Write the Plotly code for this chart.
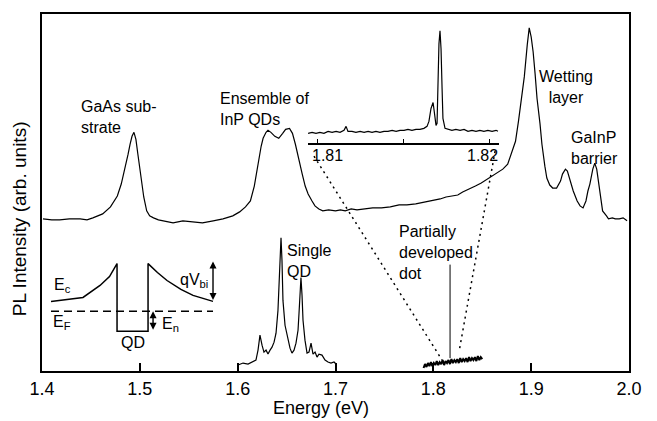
import plotly.graph_objects as go

# ---------------- data ----------------
# Upper (ensemble) PL spectrum: energy (eV), intensity (arb. units)
ens_energy = [1.401, 1.410, 1.418, 1.428, 1.439, 1.446, 1.452, 1.462, 1.470, 1.477, 1.481, 1.485,
              1.488, 1.490, 1.492, 1.494, 1.496, 1.498, 1.500, 1.502, 1.504, 1.507, 1.510, 1.514,
              1.519, 1.524, 1.529, 1.534, 1.544, 1.554, 1.564, 1.575, 1.585, 1.595, 1.602, 1.608,
              1.613, 1.617, 1.621, 1.624, 1.626, 1.629, 1.631, 1.634, 1.638, 1.642, 1.646, 1.649,
              1.653, 1.656, 1.659, 1.662, 1.666, 1.669, 1.672, 1.676, 1.679, 1.683, 1.687, 1.693,
              1.700, 1.705, 1.710, 1.716, 1.722, 1.730, 1.738, 1.747, 1.756, 1.765, 1.773, 1.782,
              1.792, 1.800, 1.807, 1.813, 1.819, 1.825, 1.830, 1.837, 1.843, 1.849, 1.855, 1.860,
              1.865, 1.871, 1.876, 1.880, 1.884, 1.887, 1.890, 1.893, 1.896, 1.898, 1.900, 1.902,
              1.904, 1.906, 1.909, 1.911, 1.914, 1.916, 1.919, 1.922, 1.926, 1.930, 1.932, 1.935,
              1.937, 1.940, 1.943, 1.947, 1.950, 1.953, 1.956, 1.958, 1.960, 1.963, 1.965, 1.967,
              1.970, 1.972, 1.973, 1.977, 1.979, 1.983, 1.986, 1.990, 1.994, 1.998]
ens_intensity = [153, 152, 152, 153, 153, 152, 154, 158, 165, 176, 188, 204,
                 218, 228, 236, 240, 233, 218, 203, 188, 175, 161, 156, 154,
                 152, 151, 150, 149, 151, 150, 149, 151, 153, 156, 160, 165,
                 171, 186, 211, 226, 234, 240, 242, 240, 236, 234, 239, 243,
                 244, 239, 228, 214, 198, 186, 178, 171, 166, 163, 161, 162,
                 161, 162, 161, 163, 162, 163, 164, 164, 165, 167, 167, 168,
                 170, 171, 173, 175, 176, 177, 180, 183, 186, 189, 193, 196,
                 199, 203, 208, 219, 231, 251, 271, 296, 328, 345, 336, 321,
                 299, 274, 249, 228, 206, 194, 187, 184, 184, 191, 198, 203,
                 201, 191, 181, 171, 166, 164, 171, 181, 188, 203, 209, 203,
                 184, 171, 161, 156, 153, 154, 153, 153, 154, 151]

# Lower spectrum: single QD
sqd_energy = [1.6004, 1.6055, 1.6106, 1.6147, 1.6187, 1.6208, 1.6228, 1.6249, 1.6269, 1.6290,
              1.6310, 1.6331, 1.6351, 1.6372, 1.6392, 1.6412, 1.6422, 1.6433, 1.6443, 1.6453,
              1.6463, 1.6484, 1.6514, 1.6535, 1.6555, 1.6576, 1.6596, 1.6617, 1.6627, 1.6637,
              1.6647, 1.6658, 1.6668, 1.6688, 1.6709, 1.6729, 1.6750, 1.6770, 1.6791, 1.6811,
              1.6831, 1.6862, 1.6893, 1.6923, 1.6954, 1.6985, 1.7005]
sqd_intensity = [6, 8, 7, 9, 11, 21, 36, 26, 19, 21,
                 17, 21, 24, 29, 38, 61, 84, 116, 134, 111,
                 71, 46, 31, 23, 18, 21, 28, 41, 58, 81,
                 94, 76, 51, 31, 18, 19, 28, 17, 19, 14,
                 17, 16, 11, 9, 8, 9, 7]

# Lower spectrum: partially developed dot
pdd_energy = [1.7900, 1.7915, 1.7930, 1.7945, 1.7960, 1.7975, 1.7990, 1.8005, 1.8020, 1.8035,
              1.8050, 1.8065, 1.8080, 1.8095, 1.8110, 1.8125, 1.8140, 1.8155, 1.8170, 1.8185,
              1.8200, 1.8215, 1.8230, 1.8245, 1.8260, 1.8275, 1.8290, 1.8305, 1.8320, 1.8335,
              1.8350, 1.8365, 1.8380, 1.8395, 1.8410, 1.8425, 1.8440, 1.8455, 1.8470, 1.8485,
              1.8500]
pdd_intensity = [3, 7, 4, 8, 5, 9, 5, 8, 6, 10,
                 6, 9, 7, 11, 6, 10, 8, 11, 7, 12,
                 8, 11, 9, 12, 8, 13, 9, 12, 10, 13,
                 9, 14, 10, 13, 11, 14, 10, 15, 11, 14, 12]

# Inset: high-resolution spectrum of the partially developed dot
ins_energy = [1.80948, 1.80971, 1.80994, 1.81017, 1.81040, 1.81064, 1.81087, 1.81110, 1.81133,
              1.81156, 1.81168, 1.81179, 1.81202, 1.81225, 1.81249, 1.81272, 1.81295, 1.81318,
              1.81341, 1.81364, 1.81387, 1.81410, 1.81434, 1.81457, 1.81480, 1.81503, 1.81526,
              1.81549, 1.81572, 1.81595, 1.81618, 1.81636, 1.81647, 1.81659, 1.81671, 1.81676,
              1.81688, 1.81694, 1.81699, 1.81705, 1.81711, 1.81717, 1.81723, 1.81728, 1.81740,
              1.81757, 1.81780, 1.81803, 1.81827, 1.81850, 1.81873, 1.81896, 1.81919, 1.81942,
              1.81965, 1.81988, 1.82012, 1.82035, 1.82046]
ins_intensity = [10, 11, 10, 11, 10, 12, 11, 12, 11,
                 13, 17, 12, 12, 11, 12, 11, 12, 11,
                 12, 11, 12, 12, 13, 12, 13, 13, 14,
                 13, 14, 14, 15, 17, 22, 35, 41, 33,
                 18, 20, 60, 100, 113, 95, 55, 25, 15,
                 14, 13, 14, 13, 14, 12, 13, 12, 13,
                 12, 13, 12, 13, 12]
ins_ticks = [1.81, 1.815, 1.82]
ins_ticklabels = ["1.81", "1.82"]
ins_ticklabel_pos = [1.81058, 1.81954]

# Band-diagram sketch (energy-like x, intensity-like y)
band_energy = [1.4092, 1.4250, 1.4419, 1.4593, 1.4690, 1.4767, 1.4767, 1.5084, 1.5084,
               1.5180, 1.5278, 1.5420, 1.5544, 1.5748]
band_level = [70, 72, 74, 86, 95, 108, 40, 40, 108, 99, 91, 82, 76, 70]
fermi_energy = [1.4092, 1.5748]
fermi_level = [60, 60]

# Dotted guide lines from inset to the spectrum, and label pointer
guide_left_E = [1.6780, 1.8089]
guide_left_I = [216, 11]
guide_right_E = [1.8631, 1.8262]
guide_right_I = [221, 19]
pointer_E = [1.8171, 1.8171]
pointer_I = [107, 13]

x_ticks = [1.4, 1.5, 1.6, 1.7, 1.8, 1.9, 2.0]
x_ticklabels = ["1.4", "1.5", "1.6", "1.7", "1.8", "1.9", "2.0"]

# ---------------- figure ----------------
FONT = "Liberation Sans, Arial, Helvetica, sans-serif"
line_k = dict(color="black", width=1.2)

fig = go.Figure()
fig.add_trace(go.Scatter(x=ens_energy, y=ens_intensity, mode="lines", line=line_k))
fig.add_trace(go.Scatter(x=sqd_energy, y=sqd_intensity, mode="lines", line=line_k))
fig.add_trace(go.Scatter(x=pdd_energy, y=pdd_intensity, mode="lines",
                         line=dict(color="black", width=2)))
fig.add_trace(go.Scatter(x=band_energy, y=band_level, mode="lines",
                         line=dict(color="black", width=1.5)))
fig.add_trace(go.Scatter(x=fermi_energy, y=fermi_level, mode="lines",
                         line=dict(color="black", width=1.5, dash="8px,5px")))
fig.add_trace(go.Scatter(x=guide_left_E, y=guide_left_I, mode="lines",
                         line=dict(color="black", width=1.5, dash="2px,4px")))
fig.add_trace(go.Scatter(x=guide_right_E, y=guide_right_I, mode="lines",
                         line=dict(color="black", width=1.5, dash="2px,4px")))
fig.add_trace(go.Scatter(x=pointer_E, y=pointer_I, mode="lines",
                         line=dict(color="black", width=1)))
fig.add_trace(go.Scatter(x=ins_energy, y=ins_intensity, mode="lines", line=line_k,
                         xaxis="x2", yaxis="y2"))

# page body has an 8px margin: compensate so the plot area lands at x 42..629, y 12..371
fig.update_layout(
    width=641, height=413,
    margin=dict(l=34, r=20, t=4, b=50),
    paper_bgcolor="white", plot_bgcolor="white",
    showlegend=False,
    font=dict(family=FONT, color="black"),
    xaxis=dict(range=[1.4, 2.0], tickvals=x_ticks, ticktext=x_ticklabels,
               ticks="inside", ticklen=8, tickwidth=1.5, tickcolor="black",
               showline=True, linecolor="black", linewidth=2, mirror=True,
               showgrid=False, zeroline=False,
               tickfont=dict(family=FONT, size=18, color="black")),
    yaxis=dict(range=[0, 359], showticklabels=False, ticks="",
               showline=True, linecolor="black", linewidth=2, mirror=True,
               showgrid=False, zeroline=False),
    xaxis2=dict(domain=[0.4532, 0.7785], anchor="y2", range=[1.80948, 1.82052],
                tickvals=ins_ticks, showticklabels=False,
                ticks="inside", ticklen=4, tickwidth=1.2, tickcolor="black",
                showline=True, linecolor="black", linewidth=2,
                showgrid=False, zeroline=False),
    yaxis2=dict(domain=[0.6379, 1.0], anchor="x2", range=[0, 130], visible=False),
)

ann_font = dict(family=FONT, size=16, color="black")
labels = [
    ("GaAs sub-<br>strate", 1.4378, 255, "left", "left"),
    ("Ensemble of<br>InP QDs", 1.5799, 263, "left", "left"),
    ("Wetting<br>layer", 1.9356, 286, "center", "center"),
    ("GaInP<br>barrier", 1.9387, 224, "left", "left"),
    ("Single<br>QD", 1.6484, 111, "left", "left"),
    ("Partially<br>developed<br>dot", 1.7629, 119, "left", "left"),
    ("E<sub>c</sub>", 1.4105, 86, "left", "left"),
    ("qV<sub>bi</sub>", 1.5720, 91, "right", "right"),
    ("E<sub>F</sub>", 1.4090, 49, "left", "left"),
    ("E<sub>n</sub>", 1.5205, 47, "left", "left"),
    ("QD", 1.4930, 29, "center", "center"),
]
for text, x, y, xa, al in labels:
    fig.add_annotation(text=text, x=x, y=y, xref="x", yref="y", xanchor=xa, yanchor="middle",
                       align=al, showarrow=False, font=ann_font)

for t, x in zip(ins_ticklabels, ins_ticklabel_pos):
    fig.add_annotation(text=t, x=x, y=0.6045, xref="x2", yref="paper", xanchor="center",
                       yanchor="middle", showarrow=False, font=ann_font)

# double-headed arrows in the band diagram
for xx, y0, y1 in [(1.5748, 70, 110), (1.5135, 40, 60)]:
    fig.add_annotation(x=xx, y=y1, ax=xx, ay=y0, xref="x", yref="y", axref="x", ayref="y",
                       text="", showarrow=True, arrowhead=2, arrowside="end+start",
                       arrowsize=1, arrowwidth=1.4, arrowcolor="black", standoff=0,
                       startstandoff=0)

fig.add_annotation(text="Energy (eV)", x=0.475, y=-0.104, xref="paper", yref="paper",
                   xanchor="center", yanchor="middle", showarrow=False,
                   font=dict(family=FONT, size=18, color="black"))
fig.add_annotation(text="PL Intensity (arb. units)", x=-0.037, y=0.426, xref="paper",
                   yref="paper", xanchor="center", yanchor="middle", textangle=-90,
                   showarrow=False, font=dict(family=FONT, size=19, color="black"))

fig.write_html("out.html")
